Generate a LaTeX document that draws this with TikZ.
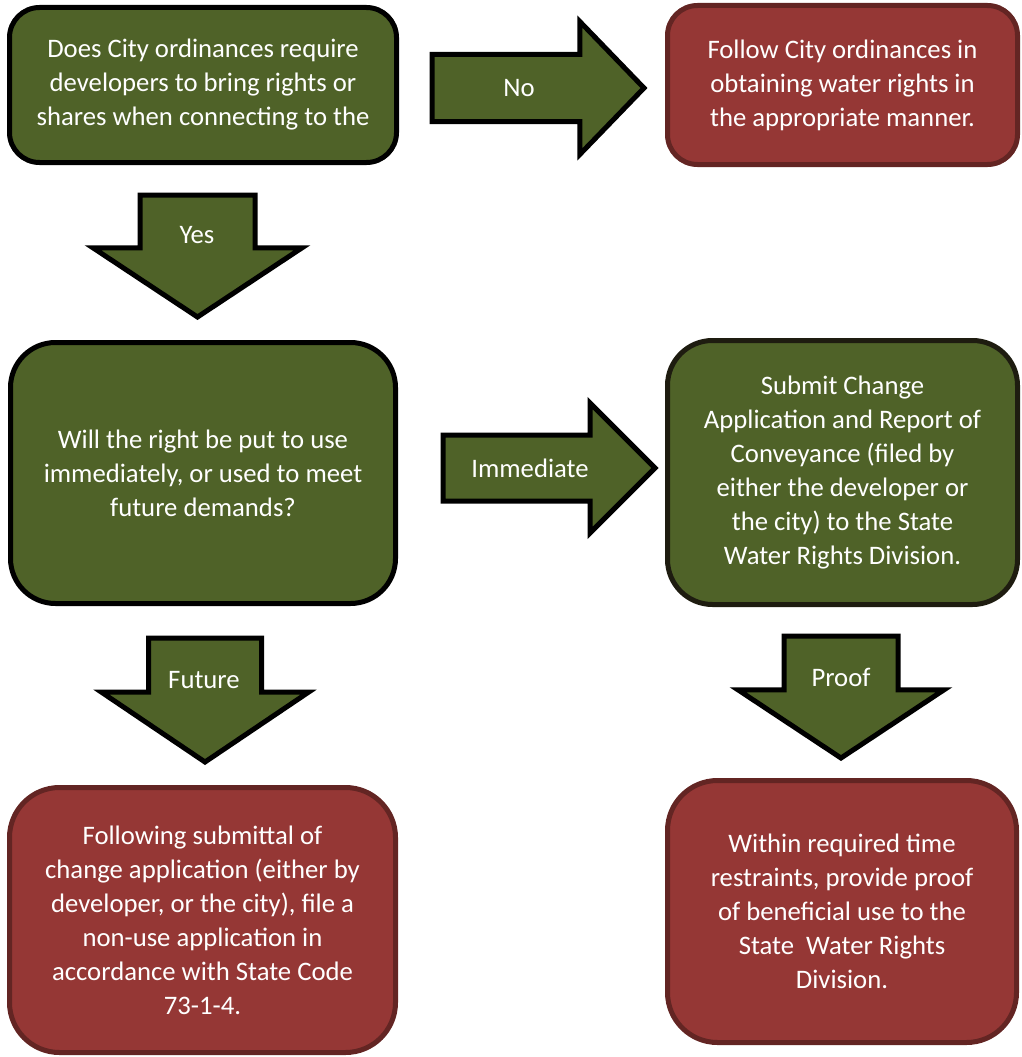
\documentclass[tikz,border=0pt]{standalone}
\usepackage{fontspec}
\setmainfont{Carlito}
\usetikzlibrary{shapes.arrows}

\definecolor{olivefill}{RGB}{79,98,40}
\definecolor{redfill}{RGB}{149,55,53}
\definecolor{redline}{RGB}{99,37,35}
\definecolor{darkline}{RGB}{30,28,16}

\tikzset{
  chartfont/.style={font=\fontsize{26.7}{34}\selectfont},
  greenbox/.style={draw=black,line width=5pt,fill=olivefill,rounded corners=#1,
    text=white,align=center,inner sep=0pt,chartfont},
  greenbox/.default=30pt,
  redbox/.style={draw=redline,line width=5pt,fill=redfill,rounded corners=#1,
    text=white,align=center,inner sep=0pt,chartfont},
  redbox/.default=30pt,
  blockarrow/.style={single arrow,draw=black,line width=5pt,fill=olivefill,
    inner sep=0pt,anchor=tail},
  arrowlabel/.style={text=white,inner sep=0pt,chartfont}
}

\begin{document}
\begin{tikzpicture}[x=1pt,y=-1pt]
\useasboundingbox (0,0) rectangle (1021,1057);

% boxes
\node[greenbox,minimum width=387pt,minimum height=155pt] (cityQ) at (203,85)
  {Does City ordinances require\\developers to bring rights or\\shares when connecting to the};
\node[redbox,minimum width=350pt,minimum height=159pt] (followCity) at (842.5,85)
  {Follow City ordinances in\\obtaining water rights in\\the appropriate manner.};
\node[greenbox=45pt,minimum width=385pt,minimum height=261pt] (useQ) at (203,473)
  {Will the right be put to use\\immediately, or used to meet\\future demands?};
\node[greenbox=45pt,draw=darkline,minimum width=350pt,minimum height=264pt] (submitChange) at (842.5,472.5)
  {Submit Change\\Application and Report of\\Conveyance (filed by\\either the developer or\\the city) to the State\\Water Rights Division.};
\node[redbox=50pt,minimum width=386pt,minimum height=265pt] (nonUse) at (202.5,920)
  {Following submittal of\\change application (either by\\developer, or the city), file a\\non-use application in\\accordance with State Code\\73-1-4.};
\node[redbox=50pt,minimum width=349pt,minimum height=262pt] (proofUse) at (842,911.5)
  {Within required time\\restraints, provide proof\\of beneficial use to the\\State\ \ Water Rights\\Division.};

% block arrows
\node[blockarrow,inner ysep=31pt,minimum height=212pt,minimum width=129pt,
  single arrow head extend=33pt,single arrow tip angle=92] (noArrow) at (429.5,88) {};
\node[blockarrow,inner ysep=30.5pt,minimum height=212pt,minimum width=126pt,
  single arrow head extend=32pt,single arrow tip angle=90] (immArrow) at (440.5,468) {};
\node[blockarrow,shape border rotate=270,inner xsep=55pt,minimum height=122pt,minimum width=204pt,
  single arrow head extend=47pt,single arrow tip angle=113] (yesArrow) at (197.5,192.5) {};
\node[blockarrow,shape border rotate=270,inner xsep=54pt,minimum height=124pt,minimum width=202pt,
  single arrow head extend=47pt,single arrow tip angle=112] (futArrow) at (205,635.5) {};
\node[blockarrow,shape border rotate=270,inner xsep=54.5pt,minimum height=122pt,minimum width=202pt,
  single arrow head extend=46pt,single arrow tip angle=113] (proofArrow) at (841,633.5) {};

% arrow labels
\node[arrowlabel] (noLbl) at (519,88) {No};
\node[arrowlabel] (yesLbl) at (197,235) {Yes};
\node[arrowlabel] (immLbl) at (530,468) {Immediate};
\node[arrowlabel] (futLbl) at (204,680) {Future};
\node[arrowlabel] (proofLbl) at (841,677) {Proof};
\end{tikzpicture}
\end{document}
